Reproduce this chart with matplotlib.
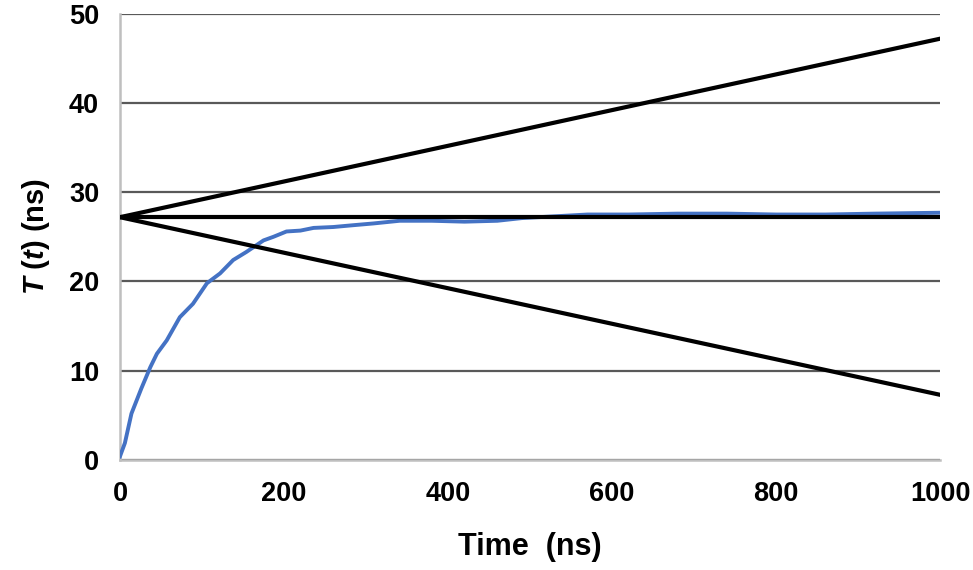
import numpy as np
import matplotlib.pyplot as plt

plt.rcParams['font.family'] = ['Liberation Sans', 'DejaVu Sans']
plt.rcParams['mathtext.fontset'] = 'custom'
plt.rcParams['mathtext.bfit'] = 'Liberation Sans:bold:italic'

# blue curve
t_data = [0, 6, 14, 26, 37, 45, 57, 73, 89, 106, 122, 138, 154, 175, 187, 203,
          220, 236, 260, 284, 309, 341, 380, 420, 460, 490, 530, 570, 620, 680,
          740, 800, 860, 920, 1000]
T_data = [0.4, 1.9, 5.2, 8.0, 10.4, 11.9, 13.4, 16.0, 17.5, 19.8, 20.9, 22.4,
          23.3, 24.6, 25.0, 25.6, 25.7, 26.0, 26.1, 26.3, 26.5, 26.8, 26.8,
          26.7, 26.8, 27.1, 27.3, 27.5, 27.5, 27.6, 27.6, 27.5, 27.5, 27.6, 27.7]

# straight reference lines
t_lines = [0, 1000]
T_mean = [27.2, 27.2]
T_upper = [27.2, 47.2]
T_lower = [27.2, 7.3]

fig = plt.figure(figsize=(9.73, 5.70), dpi=100)
ax = fig.add_axes([0.1233, 0.193, 0.843, 0.783])

ax.plot(t_data, T_data, color='#4472C4', lw=2.8, zorder=3)
for T_line in (T_upper, T_mean, T_lower):
    ax.plot(t_lines, T_line, color='black', lw=3.0, zorder=4)

ax.set_xlim(0, 1000)
ax.set_ylim(0, 50)
ax.set_xticks([0, 200, 400, 600, 800, 1000])
ax.set_yticks([0, 10, 20, 30, 40, 50])
ax.grid(axis='y', color='#595959', lw=1.6)
ax.set_axisbelow(True)
for side in ('top', 'right'):
    ax.spines[side].set_visible(False)
for side in ('left', 'bottom'):
    ax.spines[side].set_color('#bfbfbf')
    ax.spines[side].set_linewidth(1.8)
ax.tick_params(length=0, labelsize=19.5, pad=15)
for lab in ax.get_xticklabels() + ax.get_yticklabels():
    lab.set_fontweight('bold')

ax.set_xlabel('Time  (ns)', fontsize=22, fontweight='bold', labelpad=18)
ax.set_ylabel(r'$\mathbfit{T}$ ($\mathbfit{t}$) (ns)', fontsize=21,
              fontweight='bold', labelpad=12)

fig.savefig('out.png', dpi=100)
